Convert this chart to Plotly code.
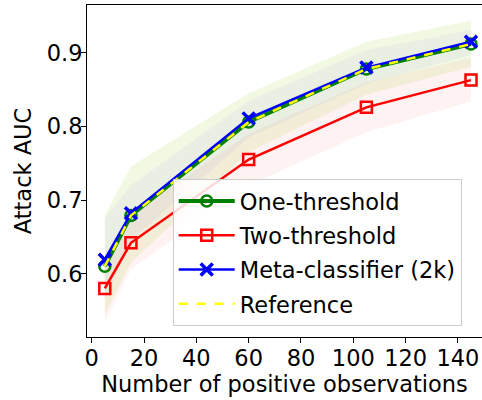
import plotly.graph_objects as go

x_obs = [5, 15, 60, 105, 145]

one_mean = [0.610, 0.679, 0.806, 0.878, 0.912]
one_upper = [0.680, 0.746, 0.845, 0.915, 0.944]
one_lower = [0.545, 0.615, 0.765, 0.843, 0.881]

two_mean = [0.580, 0.642, 0.755, 0.826, 0.863]
two_upper = [0.625, 0.680, 0.790, 0.860, 0.893]
two_lower = [0.534, 0.606, 0.720, 0.792, 0.834]

meta_mean = [0.619, 0.682, 0.811, 0.880, 0.915]
meta_upper = [0.675, 0.720, 0.835, 0.904, 0.931]
meta_lower = [0.565, 0.645, 0.785, 0.858, 0.897]

ref_mean = [0.610, 0.679, 0.806, 0.878, 0.912]
ref_upper = [0.680, 0.746, 0.845, 0.915, 0.944]
ref_lower = [0.545, 0.615, 0.765, 0.843, 0.881]

names = ["One-threshold", "Two-threshold", "Meta-classifier (2k)", "Reference"]
x_ticks = [0, 20, 40, 60, 80, 100, 120, 140]
y_ticks = [0.6, 0.7, 0.8, 0.9]

FONT = "DejaVu Sans"
FS = 22.5

fig = go.Figure()

def band(lower, upper, rgba):
    fig.add_trace(go.Scatter(
        x=x_obs + x_obs[::-1], y=upper + lower[::-1],
        fill="toself", fillcolor=rgba, line=dict(width=0),
        mode="lines", showlegend=False, hoverinfo="skip"))

band(one_lower, one_upper, "rgba(0,128,0,0.05)")
band(two_lower, two_upper, "rgba(255,0,0,0.05)")
band(meta_lower, meta_upper, "rgba(0,0,255,0.04)")
band(ref_lower, ref_upper, "rgba(255,255,0,0.06)")

fig.add_trace(go.Scatter(
    x=x_obs, y=one_mean, name=names[0], legendgroup="a", mode="lines+markers",
    line=dict(color="green", width=4),
    marker=dict(symbol="circle-open", size=11, color="green", line=dict(width=2.5))))
fig.add_trace(go.Scatter(
    x=x_obs, y=two_mean, name=names[1], legendgroup="b", mode="lines+markers",
    line=dict(color="red", width=2.5),
    marker=dict(symbol="square-open", size=11, color="red", line=dict(width=2.5))))
fig.add_trace(go.Scatter(
    x=x_obs, y=meta_mean, name=names[2], legendgroup="c", mode="lines+markers",
    line=dict(color="blue", width=2.5),
    marker=dict(symbol="x-thin-open", size=12, color="blue", line=dict(width=3.5, color="blue"))))
fig.add_trace(go.Scatter(
    x=x_obs, y=ref_mean, name=names[3], legendgroup="d", mode="lines",
    line=dict(color="yellow", width=2.5, dash="dash")))

fig.update_layout(
    width=482, height=400,
    margin=dict(l=87, r=0, t=5, b=63),
    plot_bgcolor="white", paper_bgcolor="white",
    font=dict(family=FONT, size=FS, color="black"),
    showlegend=True,
    legend=dict(
        x=0.217, y=0.476, xanchor="left", yanchor="top",
        bgcolor="rgba(255,255,255,0.85)", bordercolor="#cccccc", borderwidth=1,
        font=dict(family=FONT, size=FS), tracegroupgap=2, itemwidth=56,
    ),
    xaxis=dict(
        range=[-1.8, 149.2], tickvals=x_ticks, ticks="outside", ticklen=5,
        tickcolor="black", showline=True, linecolor="black", linewidth=1,
        mirror=True, showgrid=False, zeroline=False, ticklabelstandoff=-4,
        title=dict(text="Number of positive observations", standoff=6,
                   font=dict(size=FS)),
    ),
    yaxis=dict(
        range=[0.514, 0.965], tickvals=y_ticks, ticktext=["0.6", "0.7", "0.8", "0.9"],
        ticks="outside", ticklen=5, tickcolor="black", showline=True,
        linecolor="black", linewidth=1, mirror=False, showgrid=False,
        zeroline=False, ticklabelstandoff=-6,
        title=dict(text="Attack AUC", standoff=8, font=dict(size=FS)),
    ),
)

fig.write_html("out.html", config={"displayModeBar": False},
               post_script="document.body.style.margin='0';")
